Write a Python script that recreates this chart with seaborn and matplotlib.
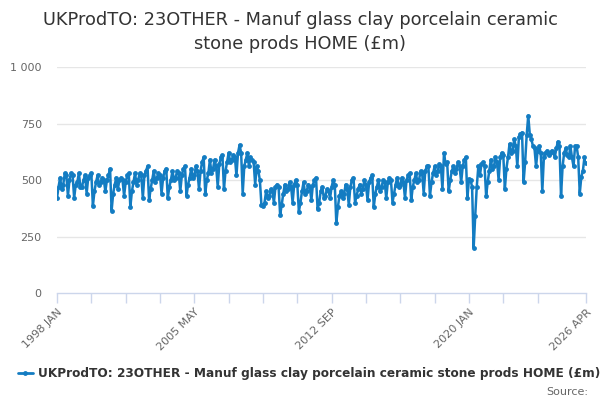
import numpy as np
import pandas as pd
import seaborn as sns
from matplotlib import pyplot as plt
from matplotlib.lines import Line2D

# monthly values, 1998 JAN .. 2026 APR
y1998 = [420, 470, 510, 460, 480, 530, 520, 430, 500, 530, 520, 420]
y1999 = [480, 490, 530, 470, 470, 500, 520, 440, 510, 520, 530, 385]
y2000 = [450, 490, 520, 480, 490, 510, 500, 450, 500, 520, 550, 365]
y2001 = [440, 480, 510, 460, 500, 510, 500, 430, 490, 520, 530, 380]
y2002 = [450, 490, 530, 480, 500, 530, 520, 420, 520, 540, 560, 410]
y2003 = [460, 500, 540, 490, 510, 530, 520, 440, 510, 540, 550, 420]
y2004 = [470, 500, 540, 500, 510, 540, 530, 450, 520, 550, 560, 430]
y2005 = [480, 510, 550, 510, 520, 560, 540, 460, 540, 580, 600, 440]
y2006 = [500, 530, 590, 530, 550, 590, 560, 470, 570, 600, 610, 460]
y2007 = [540, 580, 620, 580, 590, 610, 600, 520, 620, 655, 620, 440]
y2008 = [560, 590, 620, 560, 600, 590, 580, 480, 560, 540, 500, 390]
y2009 = [385, 400, 450, 420, 430, 460, 450, 400, 470, 480, 470, 345]
y2010 = [390, 440, 480, 450, 460, 490, 470, 400, 480, 500, 480, 360]
y2011 = [400, 450, 490, 440, 450, 480, 470, 410, 480, 500, 510, 370]
y2012 = [400, 450, 470, 420, 430, 460, 450, 420, 470, 500, 480, 310]
y2013 = [380, 430, 450, 420, 440, 480, 460, 390, 470, 500, 510, 400]
y2014 = [430, 460, 480, 440, 460, 500, 480, 410, 490, 510, 520, 380]
y2015 = [440, 470, 500, 450, 470, 500, 490, 420, 490, 510, 500, 400]
y2016 = [440, 480, 510, 470, 480, 510, 490, 420, 500, 520, 530, 410]
y2017 = [470, 500, 530, 490, 500, 540, 530, 440, 540, 560, 560, 430]
y2018 = [490, 530, 560, 520, 540, 570, 560, 460, 620, 570, 580, 450]
y2019 = [500, 540, 560, 530, 550, 580, 560, 490, 560, 590, 600, 420]
y2020 = [505, 500, 470, 200, 340, 470, 560, 520, 570, 580, 560, 430]
y2021 = [490, 540, 590, 550, 560, 600, 580, 500, 600, 620, 610, 460]
y2022 = [550, 600, 660, 620, 630, 680, 650, 560, 690, 705, 710, 490]
y2023 = [580, 700, 785, 700, 680, 650, 640, 560, 630, 650, 620, 450]
y2024 = [600, 620, 630, 610, 620, 630, 625, 600, 640, 670, 650, 430]
y2025 = [560, 620, 640, 610, 600, 650, 600, 560, 650, 650, 600, 440]
y2026 = [515, 540, 600, 575]

values = (y1998 + y1999 + y2000 + y2001 + y2002 + y2003 + y2004 + y2005
          + y2006 + y2007 + y2008 + y2009 + y2010 + y2011 + y2012 + y2013
          + y2014 + y2015 + y2016 + y2017 + y2018 + y2019 + y2020 + y2021
          + y2022 + y2023 + y2024 + y2025 + y2026)

tick_pos = [0, 22, 44, 66, 88, 110, 132, 154, 176, 198, 220, 242, 264, 286, 308, 339]
tick_labels = ['1998 JAN', '', '', '', '2005 MAY', '', '', '', '2012 SEP', '', '', '', '2020 JAN', '', '', '2026 APR']
ytick_pos = [0, 250, 500, 750, 1000]
ytick_labels = ['0', '250', '500', '750', '1 000']

title = 'UKProdTO: 23OTHER - Manuf glass clay porcelain ceramic\nstone prods HOME (£m)'
series_name = 'UKProdTO: 23OTHER - Manuf glass clay porcelain ceramic stone prods HOME (£m)'
line_color = '#137cc2'

df = pd.DataFrame({'month': np.arange(len(values)), 'value': values})

sns.set_style('white')
plt.rcParams['font.family'] = ['DejaVu Sans']

fig = plt.figure(figsize=(6, 4), dpi=100)
ax = fig.add_axes([57 / 600, 1 - 293 / 400, (586 - 57) / 600, (293 - 67) / 400])

sns.lineplot(data=df, x='month', y='value', ax=ax, color=line_color, linewidth=1.8,
             marker='o', markersize=3.5, markeredgewidth=0)

ax.set_xlim(0, len(values) - 1)
ax.set_ylim(0, 1000)
ax.set_yticks(ytick_pos)
ax.set_yticklabels(ytick_labels, fontsize=8, color='#666666')
ax.set_xticks(tick_pos)
ax.set_xticklabels(tick_labels, rotation=45, ha='right', rotation_mode='anchor', fontsize=8, color='#666666')
ax.tick_params(axis='x', length=7, width=1, color='#ccd6eb', pad=3, direction='out', bottom=True)
ax.tick_params(axis='y', length=0, pad=11)
ax.set_xlabel('')
ax.set_ylabel('')

for v in ytick_pos[1:]:
    ax.axhline(v, color='#e6e6e6', linewidth=1, zorder=0)
for s in ['top', 'right', 'left']:
    ax.spines[s].set_visible(False)
ax.spines['bottom'].set_color('#ccd6eb')
ax.spines['bottom'].set_linewidth(1)

fig.text(0.5, 1 - 32 / 400, title, ha='center', va='center', fontsize=12.8, color='#333333', linespacing=1.4)

handle = Line2D([0], [0], color=line_color, linewidth=2, marker='o', markersize=3.5, markeredgewidth=0)
fig.legend([handle], [series_name], loc='center', bbox_to_anchor=(0.515, 1 - 374 / 400), frameon=False,
           prop={'size': 8.7, 'weight': 'bold'}, labelcolor='#333333', handlelength=1.2, handletextpad=0.4)
fig.text(588 / 600, 1 - 392 / 400, 'Source:', ha='right', va='center', fontsize=8, color='#666666')

fig.savefig('out.png', dpi=100)
